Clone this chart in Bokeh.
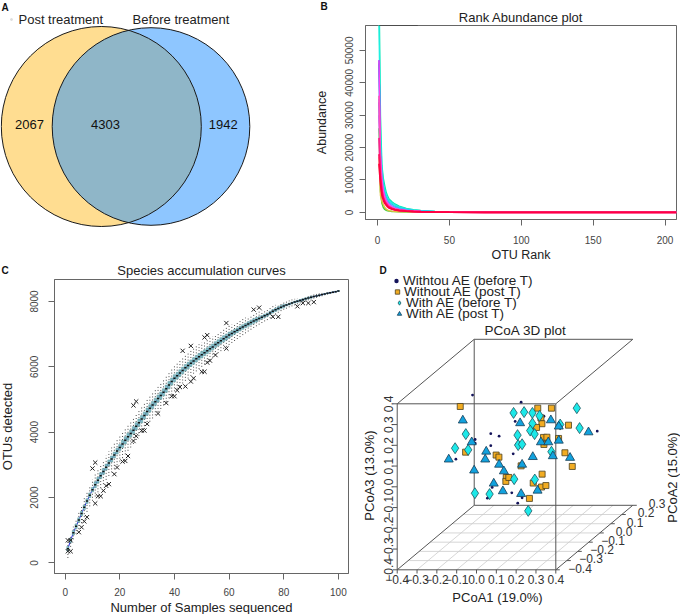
import numpy as np
from bokeh.plotting import figure
from bokeh.layouts import row, column
from bokeh.models import Range1d, FixedTicker, Legend, LegendItem, Label, Title
from bokeh.core.properties import value
from bokeh.embed import file_html
from bokeh.resources import INLINE

FONT = "Liberation Sans"
AX = "#666666"
TXT = "#222222"

# ---------- Panel A
venn_names = ["Post treatment", "Before treatment"]
venn_counts = [2067, 4303, 1942]

# ---------- Panel B
rank = [1, 2, 3, 4, 5, 6, 7, 8, 10, 12, 15, 20, 25, 30, 40, 50, 75, 100, 150, 208]
rank_curves = [
    ("#00e5b0", [70000, 30000, 14500, 10500, 8200, 6200, 5000, 4100, 3300, 2600, 1900, 1250, 850, 600, 300, 160, 50, 20, 5, 1]),
    ("#20f0e0", [58000, 24000, 13500, 9000, 7000, 5400, 4500, 3700, 2900, 2300, 1650, 1050, 720, 500, 260, 140, 45, 18, 4, 1]),
    ("#22c8f0", [46000, 20000, 12000, 7800, 5900, 4700, 3900, 3200, 2500, 1900, 1350, 900, 620, 430, 230, 125, 40, 15, 4, 1]),
    ("#60a0ff", [35000, 17000, 10000, 6800, 5100, 4000, 3300, 2800, 2100, 1600, 1150, 780, 540, 370, 200, 110, 35, 14, 3, 1]),
    ("#3040ff", [47000, 15000, 8000, 5300, 3800, 3000, 2400, 1900, 1400, 1050, 750, 500, 360, 260, 150, 90, 30, 12, 3, 1]),
    ("#8040f0", [34000, 13000, 7000, 4500, 3200, 2500, 2000, 1600, 1150, 850, 600, 420, 300, 220, 130, 75, 26, 11, 3, 1]),
    ("#40d040", [26000, 6500, 2800, 1500, 900, 650, 480, 380, 290, 220, 170, 130, 100, 80, 55, 38, 16, 8, 2, 1]),
    ("#e0c040", [17000, 5200, 3400, 2400, 1500, 1000, 700, 520, 380, 280, 210, 150, 110, 85, 55, 35, 15, 7, 2, 1]),
    ("#c050f0", [30000, 15000, 9000, 6000, 4300, 3300, 2700, 2200, 1600, 1200, 850, 570, 400, 280, 160, 95, 30, 13, 3, 1]),
    ("#ff40f0", [47000, 18000, 10500, 6800, 4800, 3600, 2900, 2300, 1700, 1250, 900, 600, 420, 300, 170, 100, 32, 13, 3, 1]),
    ("#ff50c0", [36000, 13500, 7500, 5000, 3700, 2900, 2300, 1850, 1350, 1000, 720, 480, 340, 240, 140, 85, 29, 12, 3, 1]),
    ("#ff2090", [23000, 11500, 6800, 4600, 3400, 2700, 2100, 1700, 1250, 930, 660, 440, 310, 220, 130, 80, 28, 12, 3, 1]),
    ("#ff1060", [18000, 10500, 6200, 4300, 3200, 2500, 1950, 1550, 1150, 860, 600, 400, 280, 200, 120, 75, 27, 12, 3, 1]),
    ("#ff0040", [15000, 9000, 5400, 3800, 2800, 2200, 1700, 1350, 1000, 760, 540, 360, 260, 185, 110, 70, 25, 11, 3, 1]),
]
top_edge_rank = [1, 28]
top_edge_abundance = [57700, 57700]

# ---------- Panel C
samples = list(range(1, 101))
otus_mean = [
    430, 690, 920, 1120, 1310, 1510, 1700, 1890, 2070, 2240,
    2390, 2530, 2670, 2800, 2930, 3060, 3180, 3300, 3420, 3530,
    3640, 3750, 3860, 3960, 4060, 4180, 4290, 4400, 4510, 4630,
    4730, 4830, 4930, 5030, 5120, 5220, 5330, 5440, 5550, 5650,
    5730, 5810, 5890, 5970, 6040, 6110, 6180, 6250, 6310, 6370,
    6430, 6490, 6550, 6610, 6680, 6740, 6800, 6860, 6910, 6970,
    7020, 7070, 7120, 7170, 7220, 7265, 7310, 7355, 7400, 7440,
    7480, 7520, 7560, 7600, 7650, 7700, 7745, 7785, 7825, 7860,
    7890, 7920, 7950, 7980, 8005, 8030, 8055, 8080, 8105, 8130,
    8150, 8170, 8190, 8210, 8230, 8250, 8265, 8285, 8300, 8320,
]
whisker_up = [
    240, 170, 190, 210, 240, 260, 280, 290, 300, 310,
    330, 330, 340, 340, 350, 350, 350, 360, 360, 360,
    370, 370, 380, 380, 390, 390, 380, 380, 380, 380,
    380, 380, 370, 370, 380, 380, 380, 380, 370, 370,
    380, 390, 400, 400, 400, 400, 390, 390, 380, 370,
    350, 340, 330, 320, 310, 300, 300, 300, 290, 280,
    270, 260, 260, 250, 240, 240, 230, 220, 220, 220,
    210, 200, 190, 180, 170, 160, 150, 140, 130, 120,
    120, 110, 110, 100, 100, 90, 90, 80, 80, 70,
    70, 60, 60, 50, 50, 40, 40, 30, 20, 0,
]
whisker_down = [
    280, 200, 200, 230, 270, 290, 300, 330, 340, 340,
    360, 370, 380, 390, 390, 400, 410, 420, 430, 430,
    430, 430, 430, 430, 420, 420, 410, 410, 410, 410,
    410, 410, 410, 410, 410, 400, 400, 400, 400, 400,
    400, 400, 400, 400, 400, 390, 390, 390, 380, 370,
    360, 350, 340, 330, 320, 320, 320, 310, 300, 300,
    290, 280, 270, 260, 250, 240, 230, 220, 210, 200,
    190, 180, 170, 170, 160, 150, 140, 130, 120, 110,
    110, 100, 100, 100, 90, 90, 80, 80, 70, 70,
    60, 60, 50, 50, 40, 40, 30, 30, 20, 0,
]
box_half_by_decade = [70, 90, 110, 110, 100, 90, 70, 50, 30, 15]
out_x = [1, 2, 1, 2, 10, 11, 5, 6, 7, 8, 11, 12, 13, 14, 15, 16, 18, 19, 21, 22, 23, 25, 26, 28, 29, 30, 34, 37,
         39, 40, 41, 42, 44, 46, 47, 50, 51, 52, 53, 55, 59, 25, 26, 43, 46, 51, 52, 59, 69, 71, 76, 78, 85, 87,
         89, 91]
out_y = [690, 690, 355, 355, 2890, 3070, 940, 1090, 1270, 1400, 1820, 2040, 2040, 2210, 2360, 2410, 2715, 2920, 3100,
         3120, 3270, 3730, 3880, 4050, 4050, 4250, 4570, 4890, 5100, 5100, 5280, 5380, 5400, 5550, 5650, 5850, 5850,
         6130, 6190, 6360, 6560, 4820, 4940, 6490, 6640, 6900, 6970, 7340, 7750, 7810, 7530, 7530, 7850, 7950, 7950,
         7980]

# ---------- Panel D (values read on the front face of the box)
tri_x = [-.140, -.069, -.024, -.012, .049, .044, .114, .138, .087, .133, .225, .308, .230, .284, .220, .325, .362, .375, .385, .415, .415, .472, .565]
tri_z = [.132, .320, .215, .079, .170, .132, .107, .075, .016, -.021, -.034, -.018, .107, .144, .307, .215, .215, .321, .148, .291, .223, .140, .263]
dia_x = [-.108, -.054, -.042, -.008, .066, .190, .294, .261, .187, .240, .282, .318, .282, .271, .293, .207, .210, .230, .378, .422, .506, .520]
dia_z = [.186, .254, .178, -.031, -.035, .037, .035, -.116, .356, .360, .356, .342, .305, .271, .254, .249, .201, .205, .169, .300, .379, .283]
squ_x = [-.082, -.055, .099, .113, .225, .150, .148, .163, .267, .286, .331, .328, .350, .309, .378, .325, .330, .303, .464, .414, .338, .355, .340, .446, .483]
squ_z = [.387, .167, .153, .143, .101, .045, .026, .045, -.056, .018, .061, -.001, .006, .379, .379, .332, .304, .286, .297, .233, .238, .239, .204, .164, .098]
dot_x = [-.020, .225, .195, .072, .114, .072, -.007, -.007, -.104, .185, .200, .340, .609, .079, .055, .178, .208, .230, .037]
dot_z = [.442, .408, .315, .256, .244, .198, .228, .210, .133, .159, .202, .340, .268, -.003, -.055, -.029, -.079, -.053, .127]
legend_labels = ["Withtou AE (before T)", "Without AE (post T)", "With AE (before T)", "With AE (post T)"]
x_ticks3d = [-.4, -.3, -.2, -.1, 0.0, .1, .2, .3, .4]
y_ticks3d = [-.4, -.3, -.2, -.1, 0.0, .1, .2, .3]
z_ticks3d = [-.4, -.3, -.2, -.1, 0.0, .1, .2, .3, .4]


def style_axes(p, label_size):
    for ax in (p.xaxis[0], p.yaxis[0]):
        ax.axis_line_color = AX
        ax.major_tick_line_color = AX
        ax.minor_tick_line_color = None
        ax.major_tick_out = 6
        ax.major_tick_in = 0
        ax.major_label_text_font = FONT
        ax.major_label_text_font_size = "10px"
        ax.major_label_text_color = "#444444"
        ax.axis_label_text_font = FONT
        ax.axis_label_text_font_size = label_size
        ax.axis_label_text_font_style = "normal"
        ax.axis_label_text_color = TXT
    p.yaxis[0].major_label_orientation = "vertical"
    p.grid.visible = False
    p.outline_line_color = AX
    p.outline_line_width = 1
    p.background_fill_color = "white"
    p.border_fill_alpha = 0


def letter(p, sx, sy, s):
    p.add_layout(Label(x=sx, y=sy, x_units="screen", y_units="screen", text=s, text_font=FONT, text_font_size="10px",
                       text_font_style="bold", text_color="#111111", text_align="left", text_baseline="middle"))


# ================= A  (its frame also carries the letters of the panels B and C)
a = figure(width=335, height=280, x_range=Range1d(0, 335), y_range=Range1d(280, 0), output_backend="svg",
           toolbar_location=None, x_axis_type=None, y_axis_type=None, min_border=0, outline_line_color=None)
cxl, cxr, cy, rl, rr = 100.8, 150.5, 126.0, 100.0, 98.8
a.circle([cxl], [cy], radius=rl, fill_color="#FFDD91", line_color=None)
a.circle([cxr], [cy], radius=rr, fill_color="#8EC6FF", line_color=None)
xi = (cxr**2 - cxl**2 + rl**2 - rr**2) / (2 * (cxr - cxl))
h = np.sqrt(rl**2 - (xi - cxl)**2)
tl = np.linspace(np.arctan2(-h, xi - cxl), np.arctan2(h, xi - cxl), 80)
tr = np.linspace(np.arctan2(h, xi - cxr), np.arctan2(h, xi - cxr) + 2 * (np.pi - np.arctan2(h, xi - cxr)), 80)
a.patch(np.r_[cxl + rl * np.cos(tl), cxr + rr * np.cos(tr)], np.r_[cy + rl * np.sin(tl), cy + rr * np.sin(tr)],
        fill_color="#8FB6C8", line_color=None)
a.circle([cxl, cxr], [cy, cy], radius=[rl, rr], fill_color=None, line_color="#1a1a1a", line_width=1)
a.text([29, 105, 222.7], [123.5] * 3, text=[str(v) for v in venn_counts], text_font=value(FONT), text_font_size="13px",
       text_color="#111111", text_align="center", text_baseline="middle")
a.text([18, 132], [19, 19], text=venn_names, text_font=value(FONT), text_font_size="13px", text_color=TXT,
       text_align="left", text_baseline="middle")
a.scatter([11], [19], size=2, color="#dddddd")
letter(a, 1, 273, "A")
letter(a, 320, 274, "B")
letter(a, 1, 10, "C")

# ================= B
b = figure(width=370, height=280, x_range=Range1d(-8.4, 208), y_range=Range1d(-2200, 57700), output_backend="svg",
           toolbar_location=None, min_border_left=55, min_border_right=4, min_border_top=35, min_border_bottom=51)
b.add_layout(Title(text="Rank Abundance plot", align="center", offset=-22, text_font=FONT, text_font_size="13px",
                   text_font_style="normal", text_color=TXT, standoff=2), "above")
for i, (col, vals) in enumerate(rank_curves):
    b.line(rank, vals, line_color=col, line_width=1.8 if i >= 10 else 1.4)
b.line(top_edge_rank, top_edge_abundance, line_color="#333333", line_width=1)
style_axes(b, "12.5px")
b.xaxis[0].ticker = FixedTicker(ticks=[0, 50, 100, 150, 200])
b.yaxis[0].ticker = FixedTicker(ticks=[0, 10000, 20000, 30000, 40000, 50000])
b.xaxis[0].axis_label = "OTU Rank"
b.yaxis[0].axis_label = "Abundance"
b.xaxis[0].axis_label_standoff = 1
b.yaxis[0].axis_label_standoff = 14
b.yaxis[0].major_label_standoff = 6
b.xaxis[0].major_label_standoff = 10

# ================= C
c = figure(width=354, height=367, x_range=Range1d(-3.9, 103.7), y_range=Range1d(-325, 8672), output_backend="svg",
           toolbar_location=None, min_border_left=56, min_border_right=2, min_border_top=29, min_border_bottom=42)
c.add_layout(Title(text="Species accumulation curves", align="center", text_font=FONT, text_font_size="13px",
                   text_font_style="normal", text_color=TXT, standoff=4), "above")
s = np.array(samples, float)
m = np.array(otus_mean, float)
wu = m + np.array(whisker_up)
wd = m - np.array(whisker_down)
bh = np.array([box_half_by_decade[min(i // 10, 9)] for i in range(100)], float)
c.segment(s, wd, s, wu, line_color="#222222", line_width=0.8, line_dash="1 2")
c.line(samples, otus_mean, line_color="#2222dd", line_width=1)
c.quad(left=s - .4, right=s + .4, bottom=m - bh, top=m + bh, fill_color="#7FBCC4", line_color="#5c98a2", line_width=0.5)
c.segment(s - .4, m, s + .4, m, line_color="#111111", line_width=1.5)
c.scatter(out_x, out_y, marker="x", size=6, line_color="#222222", line_width=1)
style_axes(c, "13px")
c.xaxis[0].ticker = FixedTicker(ticks=[0, 20, 40, 60, 80, 100])
c.yaxis[0].ticker = FixedTicker(ticks=[0, 2000, 4000, 6000, 8000])
c.xaxis[0].axis_label = "Number of Samples sequenced"
c.yaxis[0].axis_label = "OTUs detected"
c.xaxis[0].axis_label_standoff = 1
c.yaxis[0].axis_label_standoff = 13
c.yaxis[0].major_label_standoff = 10
c.xaxis[0].major_label_standoff = 8

# ================= D
SX, SY = 198.25, 207.5  # px per unit on the front face
DXF, DZF = 77 / SX, 64.5 / SY  # depth offset of back face in data units


def proj(x, y, z):
    d = (np.asarray(y, float) + .4) / .7
    return np.asarray(x, float) + DXF * d, np.asarray(z, float) + DZF * d


d = figure(width=330, height=354, x_range=Range1d(-.6356, 1.029), y_range=Range1d(-.6154, 1.0906), output_backend="svg",
           toolbar_location=None, x_axis_type=None, y_axis_type=None, min_border=0, outline_line_color=None,
           background_fill_alpha=0, border_fill_alpha=0)


def edge(p0, p1, color="#555555", width=1.0):
    x0, z0 = proj(*p0)
    x1, z1 = proj(*p1)
    d.line([float(x0), float(x1)], [float(z0), float(z1)], line_color=color, line_width=width)


lo, hiX, hiY, hiZ = -.4, .4, .3, .4
for v in y_ticks3d[1:-1]:
    edge((lo, v, lo), (hiX, v, lo), "#cccccc", 0.8)
for v in x_ticks3d[1:-1]:
    edge((v, lo, lo), (v, hiY, lo), "#cccccc", 0.8)
edge((lo, lo, lo), (hiX, lo, lo)); edge((lo, lo, hiZ), (hiX, lo, hiZ))
edge((lo, lo, lo), (lo, lo, hiZ)); edge((hiX, lo, lo), (hiX, lo, hiZ))
edge((lo, hiY, lo), (hiX, hiY, lo)); edge((lo, hiY, hiZ), (hiX, hiY, hiZ))
edge((lo, hiY, lo), (lo, hiY, hiZ))
edge((lo, lo, lo), (lo, hiY, lo)); edge((hiX, lo, lo), (hiX, hiY, lo))
edge((lo, lo, hiZ), (lo, hiY, hiZ)); edge((hiX, lo, hiZ), (hiX, hiY, hiZ))


def fmt(v):
    return f"{v:.1f}".replace("-", "\u2212")


TICK_F = dict(text_font=value(FONT), text_font_size="12px", text_color="#333333", text_baseline="middle", text_align="center")
xt = np.array(x_ticks3d)
d.segment(xt, [lo] * 9, xt, [lo - .018] * 9, line_color="#555555")
d.text(xt, [lo - .048] * 9, text=[fmt(v) for v in x_ticks3d], **TICK_F)
zt = np.array(z_ticks3d)
d.segment([lo] * 9, zt, [lo - .022] * 9, zt, line_color="#555555")
d.text([lo - .046] * 9, zt, text=[fmt(v) for v in z_ticks3d], angle=np.pi / 2, **TICK_F)
yx, yz = proj([hiX] * 8, y_ticks3d, [lo] * 8)
d.segment(yx, yz, yx + .02, yz, line_color="#555555")
d.text(yx + .122, yz + .008, text=[fmt(v) for v in y_ticks3d], **TICK_F)

r_dot = d.scatter(dot_x, dot_z, marker="circle", size=2.8, fill_color="#14145a", line_color=None)
r_squ = d.scatter(squ_x, squ_z, marker="square", size=6, fill_color="#F2AC22", line_color="#4a4020", line_width=0.8)
r_dia = d.scatter(dia_x, dia_z, marker="diamond", size=11, fill_color="#1CE8E8", line_color="#1f5560", line_width=0.8)
r_tri = d.scatter(tri_x, tri_z, marker="triangle", size=9, fill_color="#12A2DE", line_color="#143c55", line_width=0.8)

for lab, r, loc in zip(legend_labels, [r_dot, r_squ, r_dia, r_tri], [(40, 326), (41, 315), (43, 304), (43, 293)]):
    d.add_layout(Legend(items=[LegendItem(label=lab, renderers=[r])], location=loc, background_fill_alpha=0,
                        border_line_color=None, margin=0, padding=0, spacing=0, label_height=11, glyph_height=11,
                        glyph_width=12, label_standoff=1, label_text_font=FONT, label_text_font_size="13.5px",
                        label_text_color=TXT), "center")

T = dict(text_font=value(FONT), text_font_size="13px", text_color=TXT, text_align="center", text_baseline="middle")
d.text([(525 - 396.7) / SX - .4], [(569.3 - 330) / SY - .4], text=["PCoA 3D plot"], **{**T, "text_font_size": "13.5px"})
d.text([(497 - 396.7) / SX - .4], [(569.3 - 597) / SY - .4], text=["PCoA1 (19.0%)"], **T)
d.text([(672 - 396.7) / SX - .4], [(569.3 - 477) / SY - .4], text=["PCoA2 (15.0%)"], angle=np.pi / 2, **T)
d.text([(369 - 396.7) / SX - .4], [(569.3 - 475) / SY - .4], text=["PCoA3 (13.0%)"], angle=np.pi / 2, **T)
letter(d, 29, 344, "D")

page = column(row(a, margin=(0, 0, -20, 0)), row(b, margin=(-270, 0, -10, 310)), row(c, margin=(-10, 0, -3, -4)),
              row(d, margin=(-354, 0, 0, 350)), spacing=0)
open("out.html", "w").write(file_html(page, INLINE))
